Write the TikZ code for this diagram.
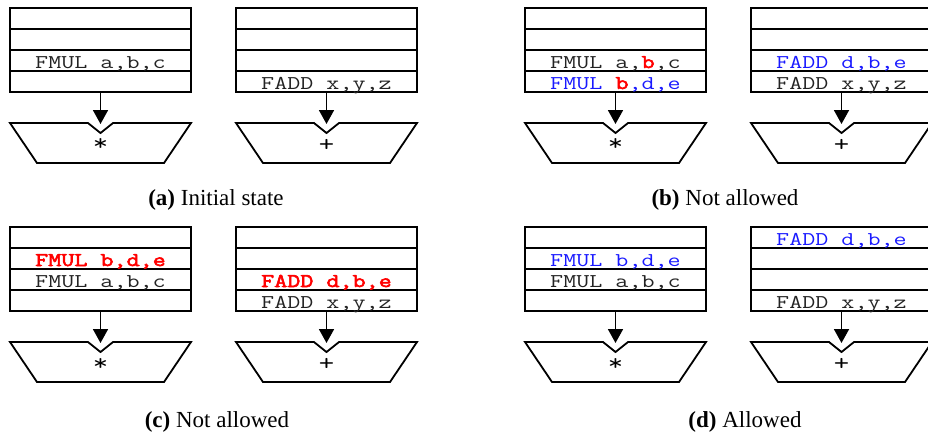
\documentclass[tikz,border=0pt]{standalone}
\usepackage{fontspec}
\setmainfont{Liberation Serif}
\newfontfamily\codefont[FakeStretch=1.3,BoldFont={Latin Modern Mono},BoldFeatures={FakeBold=3}]{Latin Modern Mono}
\usetikzlibrary{arrows.meta}
\definecolor{insgray}{RGB}{35,35,35}
\definecolor{insblue}{RGB}{25,25,255}
\definecolor{insred}{RGB}{255,0,0}
\newcommand{\hlreg}[1]{\textcolor{insred}{\textbf{#1}}}
\newcommand{\newins}[1]{\textcolor{insblue}{#1}}

\begin{document}
\begin{tikzpicture}[x=1pt,y=-1pt,line width=1.8pt,
  code/.style={anchor=base,inner sep=0pt,text=insgray,font=\codefont\fontsize{19.5}{19.5}\selectfont},
  capt/.style={anchor=base,inner sep=0pt,font=\fontsize{23}{23}\selectfont}]
\useasboundingbox (0,0) rectangle (928,437);
% reservation station + functional unit
\foreach \u/\x/\y/\op in {a1/10/8/*,a2/236/8/+,b1/525/8/*,b2/751/8/+,c1/10/227/*,c2/236/227/+,d1/525/227/*,d2/751/227/+} {
\begin{scope}[shift={(\x,\y)}]
\draw (0,0) rectangle (181,84);
\draw (0,21) -- (181,21) (0,42) -- (181,42) (0,63) -- (181,63);
\foreach \i in {1,2,3,4} {
\coordinate (\u-r\i) at (90.5,21*\i-3);
}
\coordinate (\u-out) at (90.5,84);
\coordinate (\u-in) at (90.5,116);
\draw[-{Triangle[length=14pt,width=15pt]}] (\u-out) -- (\u-in);
\draw (0,115) -- (78,115) -- (90.5,125) -- (103,115) -- (181,115) -- (154,155) -- (27,155) -- cycle;
\node[inner sep=0pt,font=\codefont\fontsize{23}{23}\selectfont] (\u-op) at (90.5,137) {\op};
\end{scope}
}
% (a)
\node[code] (a1-t3) at (a1-r3) {FMUL a,b,c};
\node[code] (a2-t4) at (a2-r4) {FADD x,y,z};
% (b)
\node[code] (b1-t3) at (b1-r3) {FMUL a,\hlreg{b},c};
\node[code] (b1-t4) at (b1-r4) {\newins{FMUL \hlreg{b},d,e}};
\node[code] (b2-t3) at (b2-r3) {\newins{FADD d,b,e}};
\node[code] (b2-t4) at (b2-r4) {FADD x,y,z};
% (c)
\node[code] (c1-t2) at (c1-r2) {\hlreg{FMUL b,d,e}};
\node[code] (c1-t3) at (c1-r3) {FMUL a,b,c};
\node[code] (c2-t3) at (c2-r3) {\hlreg{FADD d,b,e}};
\node[code] (c2-t4) at (c2-r4) {FADD x,y,z};
% (d)
\node[code] (d1-t2) at (d1-r2) {\newins{FMUL b,d,e}};
\node[code] (d1-t3) at (d1-r3) {FMUL a,b,c};
\node[code] (d2-t1) at (d2-r1) {\newins{FADD d,b,e}};
\node[code] (d2-t4) at (d2-r4) {FADD x,y,z};
% captions
\node[capt] (capa) at (216,205) {\textbf{(a)} Initial state};
\node[capt] (capb) at (725,205) {\textbf{(b)} Not allowed};
\node[capt] (capc) at (217,427) {\textbf{(c)} Not allowed};
\node[capt] (capd) at (745,427) {\textbf{(d)} Allowed};
\end{tikzpicture}
\end{document}
